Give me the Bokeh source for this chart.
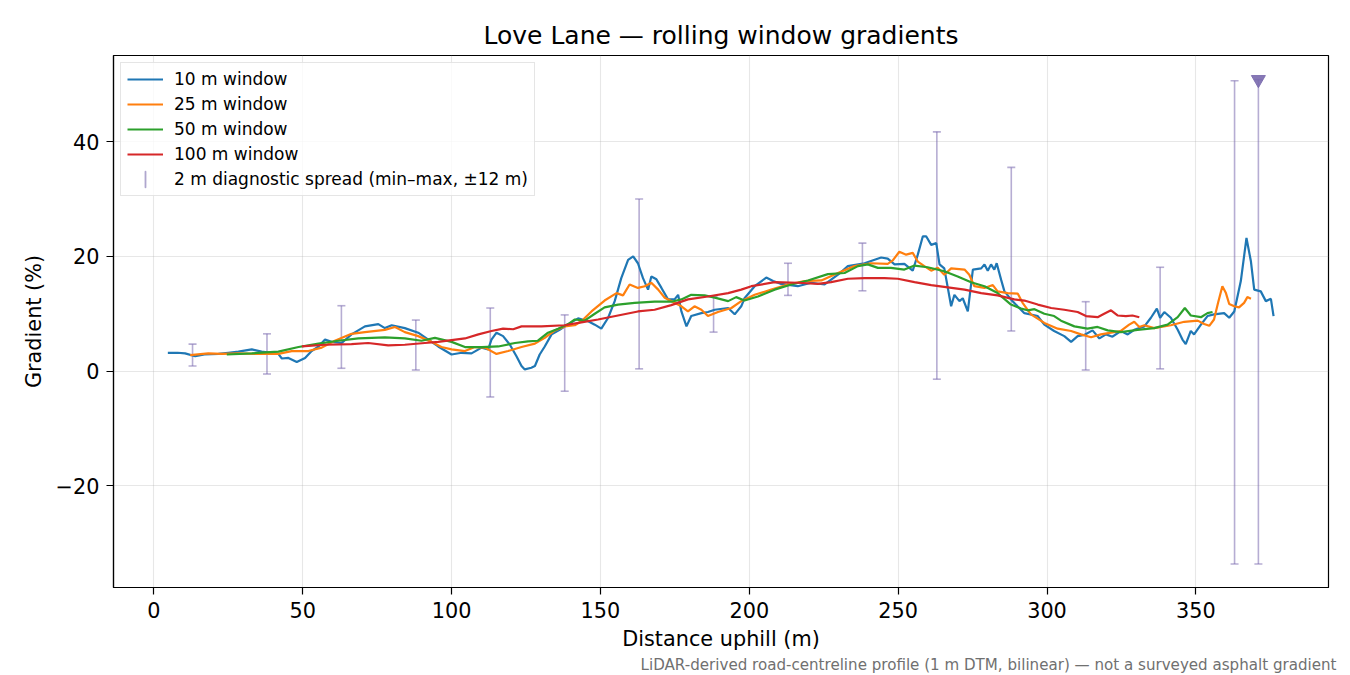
from bokeh.plotting import figure
from bokeh.models import FixedTicker, Legend, LegendItem, Title
from bokeh.embed import file_html
from bokeh.resources import INLINE

# distance uphill (m) and gradient (%) for each rolling window
d10 = [4.7, 8.0, 10.5, 13.9, 17.0, 21.7, 25.0, 28.4, 32.9, 36.2, 41.8, 43.0, 45.2, 48.0, 50.8,
       53.0, 55.3, 57.5, 59.7, 63.1, 66.4, 70.9, 75.4, 77.6, 79.9, 84.3, 88.8, 92.2, 95.5, 100.0,
       103.4, 106.7, 110.1, 112.3, 113.4, 115.1, 117.3, 119.6, 121.8, 123.5, 124.6, 126.8, 128.0,
       129.6, 131.3, 133.6, 136.3, 139.2, 142.5, 145.9, 148.1, 150.3, 152.6, 154.8, 157.0, 159.3,
       161.0, 162.6, 164.3, 166.0, 167.1, 168.8, 170.5, 172.7, 174.9, 176.1, 177.2, 178.9, 180.5,
       183.9, 186.1, 188.4, 192.9, 195.1, 197.3, 198.4, 201.8, 205.7, 208.0, 210.7, 216.3, 220.8,
       225.3, 229.8, 233.1, 238.7, 244.3, 246.5, 248.8, 252.1, 254.9, 256.6, 258.3, 259.4, 261.1,
       262.8, 263.9, 265.5, 267.8, 268.9, 270.6, 271.7, 273.4, 275.1, 277.9, 279.0, 280.1, 281.2,
       282.3, 283.1, 284.6, 285.7, 287.9, 290.1, 292.4, 296.9, 299.1, 302.4, 305.8, 308.1, 310.3,
       312.5, 315.3, 317.6, 319.8, 322.0, 324.8, 327.1, 329.3, 332.7, 334.9, 336.9, 338.0, 339.4,
       341.6, 343.9, 345.5, 346.6, 348.3, 349.4, 351.7, 353.9, 356.1, 359.5, 361.2, 362.9, 365.1,
       367.0, 368.5, 369.6, 371.8, 373.5, 375.2, 376.1]
g10 = [3.2, 3.2, 3.1, 2.6, 2.9, 3.0, 3.2, 3.4, 3.8, 3.4, 3.0, 2.2, 2.3, 1.6, 2.3,
       3.5, 4.3, 5.5, 5.1, 4.9, 6.4, 7.8, 8.2, 7.5, 8.0, 7.5, 6.7, 5.5, 4.3, 2.9,
       3.2, 3.1, 4.1, 3.8, 5.5, 6.7, 6.1, 4.6, 2.6, 0.9, 0.3, 0.6, 0.9,
       2.9, 4.3, 6.4, 7.2, 8.2, 9.2, 8.7, 8.1, 7.4, 9.3, 12.2, 16.2, 19.4,
       20.0, 18.8, 16.2, 14.2, 16.5, 16.0, 14.5, 12.5, 12.5, 13.3, 10.4, 7.8, 9.6,
       10.1, 10.3, 10.7, 11.0, 9.9, 11.3, 12.7, 14.8, 16.3, 15.7, 15.2, 14.8, 15.4,
       15.1, 16.8, 18.3, 18.8, 19.8, 19.6, 18.6, 18.7, 17.5, 20.3, 23.5, 23.5, 22.0,
       22.3, 18.6, 17.9, 11.3, 13.3, 12.2, 12.7, 10.4, 17.7, 17.9, 18.6, 17.5, 18.6,
       17.7, 18.8, 15.9, 13.9, 12.5, 11.3, 10.1, 9.6, 8.1, 7.0, 6.1, 5.1, 6.1,
       6.3, 7.1, 5.7, 6.4, 6.0, 7.0, 6.4, 7.2, 7.8, 9.3, 10.9, 9.3, 10.3,
       9.3, 7.2, 5.5, 4.7, 7.0, 6.4, 8.1, 9.6, 9.9, 10.1, 9.3, 10.4, 15.7,
       23.2, 19.1, 14.2, 13.9, 12.2, 12.6, 9.6]

d25 = [12.2, 18.3, 22.8, 28.4, 35.1, 41.8, 46.3, 51.9, 56.4, 60.8, 66.4, 70.9, 77.6, 81.0, 84.3,
       88.8, 93.3, 96.6, 100.0, 104.5, 107.8, 111.2, 115.1, 119.0, 123.5, 128.0, 131.3, 134.7,
       138.0, 141.4, 143.6, 147.0, 151.4, 155.4, 157.6, 159.8, 162.6, 164.9, 167.1, 169.4, 171.6,
       174.9, 177.2, 179.4, 181.6, 183.9, 186.1, 189.5, 194.0, 197.3, 201.8, 207.4, 213.0, 218.6,
       224.2, 229.8, 235.3, 240.9, 246.5, 248.2, 250.4, 252.7, 254.9, 256.6, 258.8, 261.1, 263.3,
       265.5, 267.8, 272.3, 273.9, 275.6, 279.0, 281.8, 283.4, 286.8, 290.2, 291.8, 294.6, 299.1,
       303.6, 308.1, 311.4, 314.8, 318.1, 321.5, 324.8, 327.6, 329.3, 331.0, 332.7, 336.0, 341.6,
       346.1, 350.6, 352.8, 354.5, 356.1, 357.5, 358.9, 360.1, 361.2, 362.9, 364.5, 366.2, 367.3,
       368.5]
g25 = [2.8, 3.1, 3.0, 3.1, 3.0, 3.0, 3.5, 3.5, 4.1, 5.3, 6.5, 6.8, 7.2, 7.7, 6.8,
       6.1, 5.1, 4.2, 3.8, 3.5, 4.2, 4.1, 3.0, 3.5, 4.2, 4.8, 5.8, 7.1,
       7.8, 8.0, 8.7, 10.4, 12.3, 13.6, 13.2, 15.1, 14.5, 14.8, 15.4, 14.2, 12.8,
       11.9, 11.3, 10.4, 11.3, 10.7, 9.6, 10.3, 11.0, 12.2, 13.3, 14.2, 15.1, 15.7,
       15.8, 17.1, 18.3, 18.8, 18.7, 19.3, 20.8, 20.3, 20.6, 19.1, 18.3, 17.5, 18.0,
       16.8, 17.9, 17.7, 16.8, 14.8, 14.5, 15.0, 13.9, 13.6, 13.5, 11.9, 9.9, 8.4,
       7.4, 7.0, 6.4, 5.9, 6.4, 6.7, 7.0, 8.1, 8.6, 7.7, 8.0, 7.5, 8.0,
       8.6, 8.8, 8.2, 7.9, 9.0, 12.0, 14.8, 13.6, 11.7, 11.3, 11.1, 11.9, 12.9,
       12.6]

d50 = [24.5, 32.9, 41.8, 48.6, 55.3, 62.0, 68.7, 77.6, 84.3, 89.9, 94.4, 100.0, 104.5, 110.1,
       115.7, 121.3, 125.7, 129.0, 132.4, 135.8, 139.2, 141.4, 144.7, 148.1, 151.4, 155.9, 161.5,
       168.2, 173.8, 177.2, 180.5, 185.0, 188.4, 192.9, 195.6, 198.4, 202.9, 208.5, 214.1, 219.7,
       226.4, 232.0, 236.5, 239.8, 243.2, 247.6, 252.1, 255.5, 259.9, 265.5, 270.0, 274.5, 279.0,
       283.4, 287.9, 291.3, 293.5, 295.8, 299.1, 302.4, 304.7, 309.2, 313.6, 317.0, 320.4, 324.8,
       330.4, 336.0, 340.5, 343.9, 346.3, 348.3, 351.7, 353.9, 355.6]
g50 = [2.9, 3.1, 3.4, 4.2, 4.8, 5.3, 5.7, 5.9, 5.7, 5.3, 5.8, 5.1, 4.2, 4.2,
       4.3, 4.9, 5.2, 5.3, 6.7, 7.4, 8.2, 9.0, 8.8, 10.0, 11.1, 11.6, 11.9,
       12.1, 12.1, 12.5, 13.3, 13.2, 12.8, 12.2, 12.9, 12.3, 13.0, 14.2, 15.1, 15.8,
       16.9, 17.1, 18.3, 18.6, 18.0, 18.0, 17.7, 18.4, 18.1, 17.4, 16.5, 15.5, 14.8,
       13.6, 11.6, 10.9, 10.6, 10.8, 10.0, 9.6, 8.8, 7.8, 7.4, 7.7, 7.1, 6.8,
       7.2, 7.5, 8.1, 9.4, 11.0, 9.7, 9.4, 10.1, 10.3]

d100 = [49.7, 57.5, 66.4, 72.0, 78.7, 84.3, 91.0, 95.5, 100.0, 104.5, 109.0, 113.4, 117.3, 120.7,
        123.5, 130.2, 138.0, 143.6, 149.2, 155.9, 162.6, 168.2, 173.8, 179.4, 186.1, 192.9, 197.3,
        200.7, 208.5, 216.3, 223.1, 227.5, 233.1, 238.7, 245.4, 249.9, 255.5, 261.1, 266.7, 272.3,
        277.9, 283.4, 289.0, 292.4, 296.9, 301.4, 305.8, 310.3, 313.1, 317.0, 319.2, 321.5, 323.7,
        326.5, 328.7, 331.0]
g100 = [4.3, 4.6, 4.7, 4.9, 4.5, 4.6, 4.9, 5.1, 5.4, 5.7, 6.4, 7.0, 7.4, 7.3,
        7.8, 7.8, 8.0, 8.5, 9.0, 9.7, 10.4, 10.7, 11.5, 12.5, 13.0, 13.6, 14.2,
        14.8, 15.5, 15.4, 15.2, 15.5, 16.1, 16.2, 16.2, 16.1, 15.5, 15.0, 14.6, 14.2,
        13.6, 13.2, 12.5, 12.3, 11.6, 11.0, 10.7, 10.3, 9.6, 9.4, 10.0, 10.6, 9.7,
        9.6, 9.7, 9.4]

# 2 m diagnostic spread (min-max within +-12 m)
spread_x = [13, 38, 63, 88, 113, 138, 163, 188, 213, 238, 263, 288, 313, 338, 363, 371]
spread_lo = [0.9, -0.5, 0.5, 0.2, -4.5, -3.5, 0.4, 6.8, 13.2, 14.0, -1.4, 7.0, 0.2, 0.4, -33.6, -33.6]
spread_hi = [4.7, 6.5, 11.4, 8.9, 11.0, 9.8, 30.0, 13.0, 18.8, 22.3, 41.7, 35.5, 12.1, 18.1, 50.6, 50.8]
clip_x = [371]
clip_y = [50.8]

x_ticks = [0, 50, 100, 150, 200, 250, 300, 350]
y_ticks = [-20, 0, 20, 40]

FONT = "DejaVu Sans"
PURPLE = "#7a6aae"

p = figure(frame_width=1215, frame_height=532, x_range=(-13.55, 394.55), y_range=(-37.7, 55.0),
           output_backend="svg", toolbar_location=None,
           min_border_left=113, min_border_right=14, min_border_top=55, min_border_bottom=80,
           title="Love Lane — rolling window gradients",
           x_axis_label="Distance uphill (m)", y_axis_label="Gradient (%)")

p.title.align = "center"
p.title.text_font = FONT
p.title.text_font_size = "25px"
p.title.text_font_style = "normal"
p.title.text_color = "black"
p.title.standoff = 12

# error bars first so the lines sit on top
bars = p.segment(x0=spread_x, y0=spread_lo, x1=spread_x, y1=spread_hi,
                 line_color=PURPLE, line_alpha=0.55, line_width=1.6)
p.scatter(spread_x + spread_x, spread_lo + spread_hi, marker="dash", size=8,
          line_color=PURPLE, line_alpha=0.55, line_width=1.6)
p.scatter(clip_x, clip_y, marker="inverted_triangle", size=14,
          fill_color=PURPLE, line_color=PURPLE, alpha=0.9)
# legend key only: a thin upright ellipse reads as a vertical bar
bar_key = p.ellipse(x=[float("nan")], y=[float("nan")], width=0.01, height=16,
                    width_units="screen", height_units="screen",
                    fill_color=None, line_color=PURPLE, line_alpha=0.6, line_width=1.8)

r10 = p.line(d10, g10, line_color="#1f77b4", line_width=2.2)
r25 = p.line(d25, g25, line_color="#ff7f0e", line_width=2.2)
r50 = p.line(d50, g50, line_color="#2ca02c", line_width=2.2)
r100 = p.line(d100, g100, line_color="#d62728", line_width=2.2)

legend = Legend(items=[
    LegendItem(label="10 m window", renderers=[r10]),
    LegendItem(label="25 m window", renderers=[r25]),
    LegendItem(label="50 m window", renderers=[r50]),
    LegendItem(label="100 m window", renderers=[r100]),
    LegendItem(label="2 m diagnostic spread (min–max, ±12 m)", renderers=[bar_key]),
], location="top_left")
legend.label_text_font = FONT
legend.label_text_font_size = "17px"
legend.label_text_color = "black"
legend.border_line_color = "#cccccc"
legend.border_line_width = 1
legend.background_fill_alpha = 0.8
legend.glyph_width = 36
legend.glyph_height = 20
legend.label_height = 20
legend.spacing = 5
legend.padding = 6
legend.label_standoff = 11
legend.margin = 7
p.add_layout(legend)

for ax in (p.xaxis, p.yaxis):
    ax.axis_line_color = "black"
    ax.axis_line_width = 1.2
    ax.major_tick_line_color = "black"
    ax.major_tick_line_width = 1.2
    ax.major_tick_in = 0
    ax.major_tick_out = 7
    ax.minor_tick_line_color = None
    ax.major_label_text_font = FONT
    ax.major_label_text_font_size = "20.8px"
    ax.major_label_text_color = "black"
    ax.axis_label_text_font = FONT
    ax.axis_label_text_font_size = "20.8px"
    ax.axis_label_text_font_style = "normal"
    ax.axis_label_text_color = "black"
    ax.major_label_standoff = 7

p.xaxis.ticker = FixedTicker(ticks=x_ticks)
p.yaxis.ticker = FixedTicker(ticks=y_ticks)
p.yaxis.major_label_overrides = {-20: "−20"}
p.xaxis.axis_label_standoff = 6
p.yaxis.axis_label_standoff = 7

p.xgrid.ticker = FixedTicker(ticks=x_ticks)
p.ygrid.ticker = FixedTicker(ticks=y_ticks)
for g in (p.xgrid, p.ygrid):
    g.grid_line_color = "#b0b0b0"
    g.grid_line_alpha = 0.3
    g.grid_line_width = 1.1

p.outline_line_color = "black"
p.outline_line_width = 1.2
p.background_fill_color = "white"
p.border_fill_color = "white"

note = Title(text="LiDAR-derived road-centreline profile (1 m DTM, bilinear) — not a surveyed asphalt gradient",
             align="right", text_font=FONT, text_font_size="15.1px", text_font_style="normal",
             text_color="#707070", standoff=0, offset=-8)
p.add_layout(note, "below")

open("out.html", "w").write(file_html(p, INLINE))
